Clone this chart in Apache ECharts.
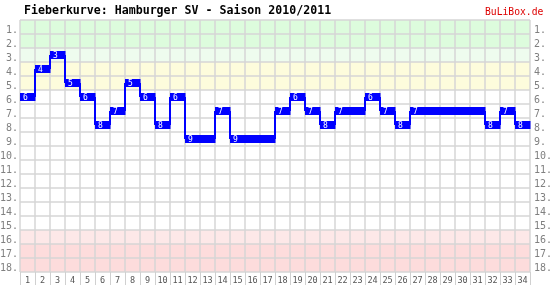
<!DOCTYPE html>
<html>
<head>
<meta charset="utf-8">
<script src="https://cdn.jsdelivr.net/npm/echarts@6/dist/echarts.min.js"></script>
<style>html,body{margin:0;padding:0;background:#fff}#c{width:551px;height:286px}</style>
</head>
<body>
<div id="c"></div>
<script>
const titleText = 'Fieberkurve: Hamburger SV - Saison 2010/2011';
const brandText = 'BuLiBox.de';
const matchdays = ['1','2','3','4','5','6','7','8','9','10','11','12','13','14','15','16','17','18','19','20','21','22','23','24','25','26','27','28','29','30','31','32','33','34'];
const rankLabels = ['1.','2.','3.','4.','5.','6.','7.','8.','9.','10.','11.','12.','13.','14.','15.','16.','17.','18.'];
const positions = [6,4,3,5,6,8,7,5,6,8,6,9,9,7,9,9,9,7,6,7,8,7,7,6,7,8,7,7,7,7,7,8,7,8];

const rowColors = ['#ddfcdd','#ddfcdd','#eefcee','#fdfcdc','#fdfcdc','#ffffff','#ffffff','#ffffff','#ffffff','#ffffff','#ffffff','#ffffff','#ffffff','#ffffff','#ffffff','#fde8e8','#fddcdc','#fddcdc'];

const seriesData = positions.map((p, i) => [i, p - 1, i > 0 ? positions[i - 1] - 1 : -1, p]);

const chart = echarts.init(document.getElementById('c'), null, {renderer: 'canvas'});
const mono = '"DejaVu Sans Mono", "Liberation Mono", monospace';
chart.setOption({
  animation: false,
  title: [
    {text: titleText, left: 19, top: 0, textStyle: {fontFamily: mono, fontSize: 11.6, fontWeight: 'bold', color: '#000'}}
  ],
  graphic: [
    {type: 'text', left: 485, top: 7, style: {text: brandText, font: '9.7px ' + mono, fill: '#dd0000'}}
  ],
  grid: {left: 20, right: 21, top: 20, bottom: 14, containLabel: false, outerBoundsMode: 'none'},
  xAxis: {
    type: 'category', data: matchdays, boundaryGap: true,
    axisLine: {show: false},
    axisTick: {show: true, length: 13, lineStyle: {color: '#d0d0d0', width: 1}},
    axisLabel: {fontFamily: mono, fontSize: 8.5, color: '#555', margin: 4, interval: 0},
    splitLine: {show: true, interval: 0, lineStyle: {color: '#d6d6d6', width: 1.5}}
  },
  yAxis: [
    {
      type: 'category', data: rankLabels, inverse: true, boundaryGap: true, position: 'left',
      axisLine: {show: false}, axisTick: {show: false},
      axisLabel: {fontFamily: mono, fontSize: 10, color: '#808080', margin: 2, interval: 0, verticalAlign: 'top', lineHeight: 6},
      splitLine: {show: true, interval: 0, lineStyle: {color: '#d6d6d6', width: 1.5}},
      splitArea: {show: true, interval: 0, areaStyle: {color: rowColors}}
    },
    {
      type: 'category', data: rankLabels, inverse: true, boundaryGap: true, position: 'right',
      axisLine: {show: false}, axisTick: {show: false},
      axisLabel: {fontFamily: mono, fontSize: 10, color: '#808080', margin: 4, interval: 0, verticalAlign: 'top', lineHeight: 6},
      splitLine: {show: false}
    }
  ],
  series: [{
    type: 'custom',
    data: seriesData,
    encode: {x: 0, y: 1},
    renderItem: function (params, api) {
      const i = api.value(0);
      const yi = api.value(1);
      const prev = api.value(2);
      const pos = api.value(3);
      const c = api.coord([i, yi]);
      const w = api.size([1, 0])[0];
      const x0 = c[0] - w / 2;
      const children = [{
        type: 'rect',
        shape: {x: x0, y: c[1] - 4, width: w + 0.5, height: 8},
        style: {fill: '#0000ff'}
      }];
      if (prev !== yi) {
        children.push({
          type: 'text',
          style: {x: x0 + 3, y: c[1] + 0.5, text: String(pos), fill: '#fff', font: '8px ' + mono, verticalAlign: 'middle', align: 'left'}
        });
      }
      if (prev >= 0 && prev !== yi) {
        const pc = api.coord([i, prev]);
        children.push({
          type: 'line',
          shape: {x1: x0, y1: pc[1], x2: x0, y2: c[1]},
          style: {stroke: '#0000ff', lineWidth: 2}
        });
      }
      return {type: 'group', children: children};
    }
  }]
});
</script>
</body>
</html>
